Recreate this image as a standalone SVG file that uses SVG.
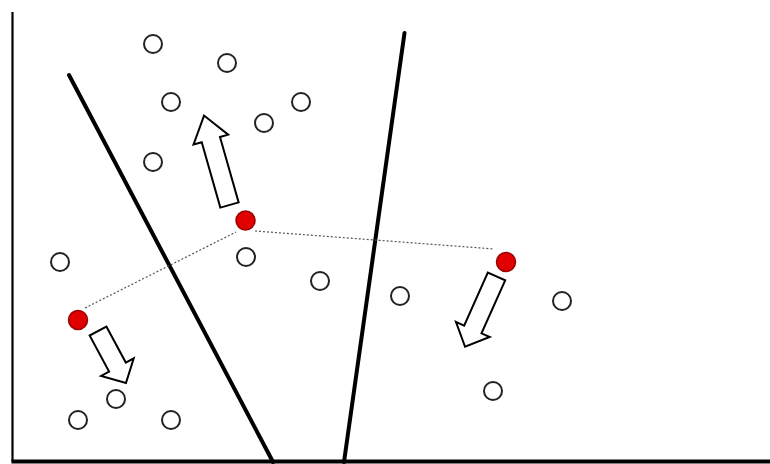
<svg xmlns="http://www.w3.org/2000/svg" width="770" height="464" viewBox="0 0 770 464">
<style>
.axis{stroke:#000;stroke-width:2.2;fill:none}
.sep{stroke:#000;stroke-width:4;fill:none;stroke-linecap:round}
.pt{fill:#fff;stroke:#222;stroke-width:2}
.ctr{fill:#e00000;stroke:#900;stroke-width:1.5}
.dot{stroke:#555;stroke-width:1.2;stroke-dasharray:2 2;fill:none}
.arr{fill:#fff;stroke:#000;stroke-width:2;stroke-linejoin:miter}
</style>
<rect width="770" height="464" fill="#fff"/>
<g id="axes">
<line class="axis" x1="12.5" y1="12" x2="12.5" y2="462"/>
<line x1="11.5" y1="461.5" x2="770" y2="461.5" stroke="#000" stroke-width="4"/>
</g>
<g id="boundaries">
<line class="sep" x1="69" y1="75" x2="273" y2="462"/>
<line class="sep" x1="404.5" y1="33" x2="344" y2="462"/>
</g>
<g id="connectors">
<line class="dot" x1="85" y1="308" x2="236" y2="232" stroke="#777"/>
<line class="dot" x1="255" y1="231" x2="494" y2="249"/>
</g>
<g id="points">
<circle class="pt" cx="153" cy="44" r="9"/>
<circle class="pt" cx="227" cy="63" r="9"/>
<circle class="pt" cx="171" cy="102" r="9"/>
<circle class="pt" cx="264" cy="123" r="9"/>
<circle class="pt" cx="301" cy="102" r="9"/>
<circle class="pt" cx="153" cy="162" r="9"/>
<circle class="pt" cx="60" cy="262" r="9"/>
<circle class="pt" cx="246" cy="257" r="9"/>
<circle class="pt" cx="320" cy="281" r="9"/>
<circle class="pt" cx="400" cy="296" r="9"/>
<circle class="pt" cx="562" cy="301" r="9"/>
<circle class="pt" cx="493" cy="391" r="9"/>
<circle class="pt" cx="116" cy="399" r="9"/>
<circle class="pt" cx="78" cy="420" r="9"/>
<circle class="pt" cx="171" cy="420" r="9"/>
</g>
<g id="centroid1"><circle class="ctr" cx="78" cy="320" r="9.5"/></g>
<g id="centroid2"><circle class="ctr" cx="245.5" cy="220.5" r="9.5"/></g>
<g id="centroid3"><circle class="ctr" cx="506" cy="262" r="9.5"/></g>
<g id="arrow1"><polygon class="arr" transform="translate(229.5,205) rotate(-105.9)" points="0,-9.5 68,-9.5 68,-18 93,0 68,18 68,9.5 0,9.5"/></g>
<g id="arrow2"><polygon class="arr" transform="translate(98,331) rotate(61.7)" points="0,-9.5 41,-9.5 41,-18.5 59,0 41,18.5 41,9.5 0,9.5"/></g>
<g id="arrow3"><polygon class="arr" transform="translate(496.5,276.5) rotate(114.1)" points="0,-9.5 58,-9.5 58,-18.5 77,0 58,18.5 58,9.5 0,9.5"/></g>
</svg>
